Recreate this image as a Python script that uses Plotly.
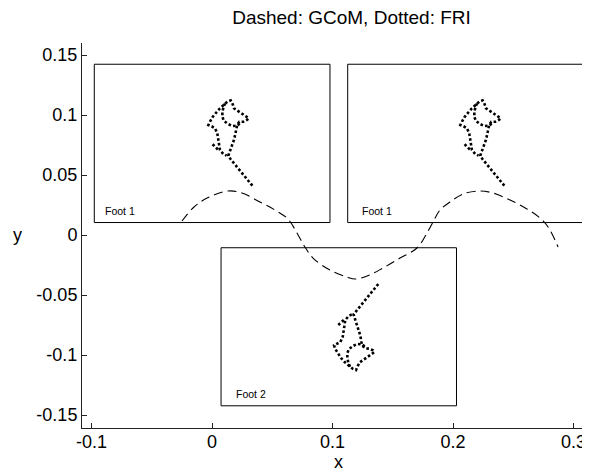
import plotly.graph_objects as go

# Dashed: GCoM trajectory
gcom_x = [-0.0249, -0.0158, -0.0041, 0.0133, 0.0249, 0.0398, 0.0523, 0.0631, 0.0705, 0.0771,
          0.0838, 0.0979, 0.1120, 0.1187, 0.1287, 0.1419, 0.1560, 0.1701, 0.1784, 0.1834,
          0.1892, 0.1975, 0.2083, 0.2224, 0.2332, 0.2473, 0.2614, 0.2722, 0.2789, 0.2872]
gcom_y = [0.0117, 0.0225, 0.0308, 0.0367, 0.0350, 0.0275, 0.0208, 0.0133, 0.0017, -0.0100,
          -0.0192, -0.0292, -0.0350, -0.0367, -0.0342, -0.0275, -0.0192, -0.0108, 0.0017, 0.0108,
          0.0208, 0.0275, 0.0342, 0.0367, 0.0350, 0.0292, 0.0217, 0.0142, 0.0067, -0.0100]

# Dotted: FRI, foot 1 (first inset)
foot1a_x = [0.0335, 0.0288, 0.0243, 0.0199, 0.0155, 0.0135, 0.0149, 0.0166, 0.0182, 0.0193,
            0.0202, 0.0210, 0.0227, 0.0260, 0.0293, 0.0305, 0.0282, 0.0249, 0.0210, 0.0182,
            0.0172, 0.0155, 0.0127, 0.0100, 0.0066, 0.0034, 0.0005, -0.0017, -0.0030, -0.0003,
            0.0025, 0.0044, 0.0052, 0.0058, 0.0066, 0.0094, 0.0121, None,
            0.0108, 0.0094, 0.0086, 0.0086, 0.0100, 0.0133, 0.0169, 0.0205, 0.0238, None,
            0.0005, 0.0034, 0.0061]
foot1_y = [0.0411, 0.0467, 0.0522, 0.0578, 0.0631, 0.0661, 0.0700, 0.0744, 0.0792, 0.0839,
           0.0889, 0.0922, 0.0944, 0.0944, 0.0961, 0.0972, 0.0989, 0.1011, 0.1033, 0.1056,
           0.1089, 0.1122, 0.1111, 0.1089, 0.1056, 0.1019, 0.0983, 0.0944, 0.0917, 0.0906,
           0.0889, 0.0847, 0.0800, 0.0750, 0.0708, 0.0675, 0.0661, None,
           0.1097, 0.1061, 0.1022, 0.0983, 0.0950, 0.0925, 0.0908, 0.0911, 0.0933, None,
           0.0756, 0.0728, 0.0700]

# Dotted: FRI, foot 1 (second inset)
foot1b_x = [0.2426, 0.2379, 0.2334, 0.2290, 0.2246, 0.2226, 0.2240, 0.2257, 0.2273, 0.2284,
            0.2293, 0.2301, 0.2318, 0.2351, 0.2384, 0.2396, 0.2373, 0.2340, 0.2301, 0.2273,
            0.2263, 0.2246, 0.2218, 0.2191, 0.2157, 0.2125, 0.2096, 0.2074, 0.2061, 0.2088,
            0.2116, 0.2135, 0.2143, 0.2149, 0.2157, 0.2185, 0.2212, None,
            0.2199, 0.2185, 0.2177, 0.2177, 0.2191, 0.2224, 0.2260, 0.2296, 0.2329, None,
            0.2096, 0.2125, 0.2152]

# Dotted: FRI, foot 2
foot2_x = [0.1380, 0.1336, 0.1289, 0.1242, 0.1198, 0.1175, 0.1187, 0.1203, 0.1220, 0.1231,
           0.1239, 0.1247, 0.1270, 0.1303, 0.1336, 0.1347, 0.1325, 0.1292, 0.1253, 0.1226,
           0.1209, 0.1195, 0.1167, 0.1137, 0.1103, 0.1071, 0.1043, 0.1021, 0.1013, 0.1037,
           0.1065, 0.1085, 0.1093, 0.1099, 0.1106, 0.1134, 0.1162, None,
           0.1145, 0.1131, 0.1123, 0.1123, 0.1137, 0.1170, 0.1206, 0.1242, 0.1275, None,
           0.1048, 0.1076, 0.1103]
foot2_y = [-0.0408, -0.0464, -0.0519, -0.0575, -0.0631, -0.0661, -0.0700, -0.0744, -0.0792, -0.0839,
           -0.0889, -0.0922, -0.0944, -0.0947, -0.0961, -0.0975, -0.0992, -0.1014, -0.1036, -0.1061,
           -0.1092, -0.1125, -0.1114, -0.1092, -0.1061, -0.1025, -0.0986, -0.0947, -0.0919, -0.0908,
           -0.0892, -0.0847, -0.0800, -0.0750, -0.0708, -0.0675, -0.0661, None,
           -0.1097, -0.1061, -0.1022, -0.0983, -0.0950, -0.0925, -0.0908, -0.0911, -0.0933, None,
           -0.0750, -0.0725, -0.0700]

# Inset frames
inset_x0 = [-0.0977, 0.1126, 0.0075]
inset_x1 = [0.0979, 0.3076, 0.2029]
inset_y0 = [0.0104, 0.0104, -0.1423]
inset_y1 = [0.1423, 0.1423, -0.0106]
inset_labels = ["Foot 1", "Foot 1", "Foot 2"]
label_x = [-0.0907, 0.1228, 0.0179]
label_y = [0.0200, 0.0200, -0.1327]

x_ticks = [-0.1, 0, 0.1, 0.2, 0.3]
x_ticktext = ["-0.1", "0", "0.1", "0.2", "0.3"]
y_ticks = [0.15, 0.1, 0.05, 0, -0.05, -0.1, -0.15]
y_ticktext = ["0.15", "0.1", "0.05", "0", "-0.05", "-0.1", "-0.15"]

FONT = "Liberation Sans, Arial, sans-serif"
W, H = 582, 463  # page body adds an 8px margin

fig = go.Figure()
fig.add_trace(go.Scatter(x=gcom_x, y=gcom_y, mode="lines", line_shape="spline",
                         line=dict(color="black", width=1.1, dash="9px,5px"),
                         showlegend=False, hoverinfo="skip"))
for fx, fy in [(foot1a_x, foot1_y), (foot1b_x, foot1_y), (foot2_x, foot2_y)]:
    fig.add_trace(go.Scatter(x=fx, y=fy, mode="lines", connectgaps=False,
                             line=dict(color="black", width=2.6, dash="2.6px,2.2px"),
                             showlegend=False, hoverinfo="skip"))

for i in range(3):
    fig.add_shape(type="rect", xref="x", yref="y",
                  x0=inset_x0[i], x1=inset_x1[i], y0=inset_y0[i], y1=inset_y1[i],
                  line=dict(color="black", width=1), fillcolor="rgba(0,0,0,0)", layer="below")
    fig.add_annotation(x=label_x[i], y=label_y[i], xref="x", yref="y", text=inset_labels[i],
                       showarrow=False, xanchor="left", yanchor="middle",
                       font=dict(family=FONT, size=10.5, color="black"))

fig.add_annotation(x=0.1046, y=-0.088, xref="x", yref="paper", text="x", showarrow=False,
                   xanchor="center", yanchor="middle", font=dict(family=FONT, size=18, color="black"))
fig.add_annotation(x=-0.126, y=0.0, xref="paper", yref="y", text="y", showarrow=False,
                   xanchor="center", yanchor="middle", font=dict(family=FONT, size=18, color="black"))

fig.update_layout(
    width=W, height=H,
    margin=dict(l=74, r=0, t=35, b=43),
    paper_bgcolor="white", plot_bgcolor="white",
    title=dict(text="Dashed: GCoM, Dotted: FRI", x=(351.5 - 8) / W, y=1 - (17 - 8) / H,
               xref="container", yref="container", xanchor="center", yanchor="middle",
               font=dict(family=FONT, size=19, color="black")),
    font=dict(family=FONT, color="black"),
)
fig.update_xaxes(range=[-0.1079, 0.3137], tickvals=x_ticks, ticktext=x_ticktext,
                 showgrid=False, zeroline=False, showline=True, linecolor="#222", linewidth=1,
                 ticks="inside", ticklen=5, tickcolor="#222", mirror=False,
                 ticklabelstandoff=-3,
                 tickfont=dict(family=FONT, size=18, color="black"))
fig.update_yaxes(range=[-0.1608, 0.16], tickvals=y_ticks, ticktext=y_ticktext,
                 showgrid=False, zeroline=False, showline=True, linecolor="#222", linewidth=1,
                 ticks="inside", ticklen=5, tickcolor="#222", mirror=False,
                 tickfont=dict(family=FONT, size=18, color="black"))

fig.write_html("out.html")
